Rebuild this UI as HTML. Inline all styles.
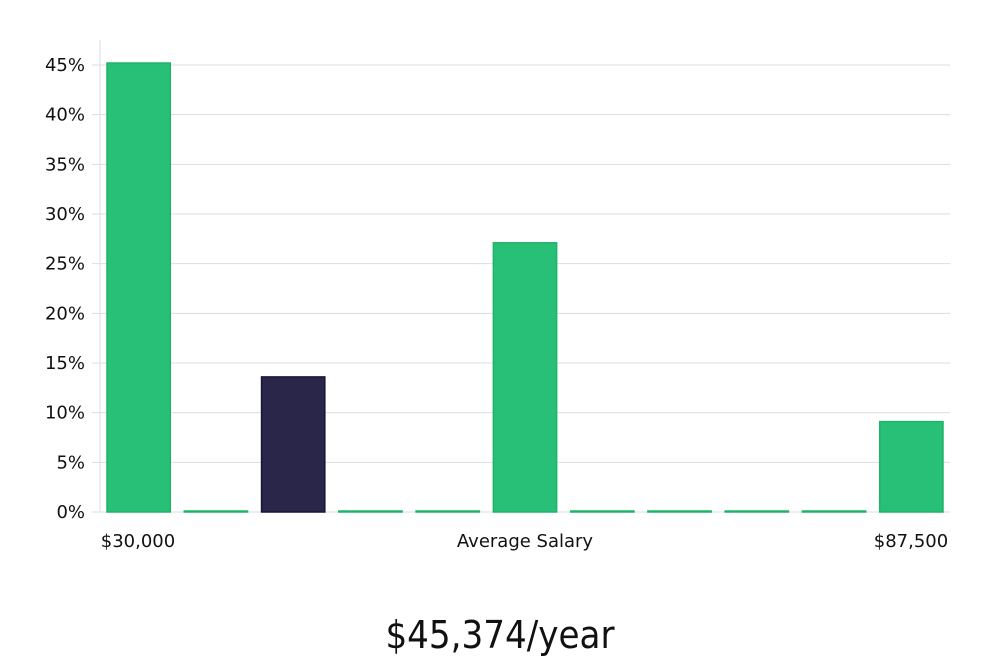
<!DOCTYPE html>
<html><head><meta charset="utf-8"><style>
body{margin:0;background:#fff;width:1000px;height:660px;overflow:hidden}
svg text{font-family:"DejaVu Sans","Liberation Sans",sans-serif}
</style></head><body>
<svg width="1000" height="660">
<g id="grid"></g>
<g id="bars"></g>
<g id="labels"></g>
<text x="500" y="648" text-anchor="middle" font-size="38" fill="#111" style="font-family:'Liberation Sans Narrow','DejaVu Sans Condensed',sans-serif">$45,374/year</text>
</svg>
<script>
const categories=["b1","b2","b3","b4","b5","b6","b7","b8","b9","b10","b11"];
const values=[45.2,0,13.6,0,0,27.1,0,0,0,0,9.1];
const highlight=[false,false,true,false,false,false,false,false,false,false,false];
const yTicks=[0,5,10,15,20,25,30,35,40,45];
const xLabels=["$30,000","Average Salary","$87,500"];
const NS="http://www.w3.org/2000/svg";
const x0=100,x1=950,y0=512,pxPer=(512-65)/45;
const y=v=>y0-v*pxPer;
const slot=(x1-x0)/categories.length;
function mk(t,a,p){const e=document.createElementNS(NS,t);for(const k in a)e.setAttribute(k,a[k]);p.appendChild(e);return e;}
const g=document.getElementById('grid'),b=document.getElementById('bars'),l=document.getElementById('labels');
const ax=mk('line',{x1:x0,x2:x0,y1:40,y2:y0,stroke:'#ddd'},g);


yTicks.forEach(t=>{
 const ln=mk('line',{x1:x0-8,x2:x1,y1:y(t),y2:y(t),stroke:'#ddd'},g);
 
 
 const tx=mk('text',{x:85,y:y(t)+6,'text-anchor':'end','font-size':18,fill:'#111'},l);
 tx.textContent=t+'%';
 
 
});
values.forEach((v,i)=>{
 const bx=x0+i*slot+7,w=slot-14;
 const h=Math.max(v*pxPer,1);
 const r=mk('rect',{x:bx,y:y0-h,width:w,height:h,fill:highlight[i]?'#29264a':'#28c076',stroke:highlight[i]?'#17153a':'#1fb36a','stroke-width':1.5},b);
 
 
});
const xl=[[138,'middle'],[525,'middle'],[911,'middle']];
xLabels.forEach((s,i)=>{
 const t=mk('text',{x:xl[i][0],y:547,'text-anchor':xl[i][1],'font-size':18,fill:'#111'},l);
 t.textContent=s;
 
 
});
</script>
</body></html>
